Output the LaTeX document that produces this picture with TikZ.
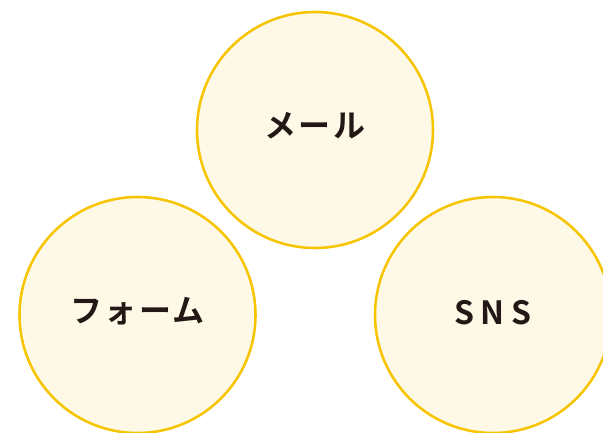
\documentclass[tikz,border=0pt]{standalone}
\usepackage{fontspec}
\newfontfamily\jpfont[LetterSpace=7]{Noto Sans CJK JP Bold}
\newfontfamily\snsfont[LetterSpace=20]{Noto Sans CJK JP Bold}
\definecolor{ringcol}{HTML}{F7C400}
\definecolor{fillcol}{HTML}{FEF8E6}
\definecolor{txtcol}{HTML}{231815}
\begin{document}
\begin{tikzpicture}[x=0.75pt,y=-0.75pt,
  bubble/.style={circle, draw=ringcol, fill=fillcol, line width=1.9pt, minimum size=236*0.75pt, inner sep=0pt},
  lbl/.style={text=txtcol, font=\jpfont\fontsize{24pt}{28pt}\selectfont}]
\path[use as bounding box] (0,0) rectangle (603,432);
\begin{scope}
\clip (0,0) rectangle (603,432);
\node[bubble] (mail) at (315,130) {};
\node[bubble] (form) at (137.5,315) {};
\node[bubble] (sns) at (493,315) {};
\end{scope}
\node[lbl, yshift=3pt] (mailt) at (mail) {メール};
\node[lbl, yshift=3pt] (formt) at (form) {フォーム};
\node[lbl, yshift=2pt, font=\snsfont\fontsize{24pt}{28pt}\selectfont] (snst) at (sns) {SNS};
\end{tikzpicture}
\end{document}
